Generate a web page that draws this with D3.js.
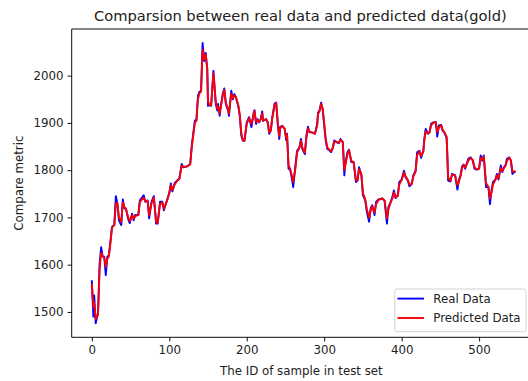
<!DOCTYPE html>
<html>
<head>
<meta charset="utf-8">
<script src="https://cdn.jsdelivr.net/npm/d3@7"></script>
<style>
  body { margin: 0; background: #fff; }
  svg { display: block; font-family: "DejaVu Sans", sans-serif; }
</style>
</head>
<body>
<div id="chart"></div>
<script>
// sample ids (turning points of the curve)
const sampleId = [
  0, 2, 3, 5, 8, 10, 12, 14, 16, 18, 20, 22, 24, 26, 29, 31, 33, 35, 38, 40,
  42, 44, 47, 49, 52, 54, 56, 60, 62, 67, 69, 72, 74, 77, 80, 83, 85, 88, 91, 93,
  97, 100, 102, 104, 107, 110, 113, 116, 118, 123, 127, 129, 133, 135, 137, 139, 141, 143, 145, 147,
  149, 150, 152, 154, 157, 160, 162, 163, 165, 167, 169, 171, 173, 176, 177, 180, 182, 184, 186, 189,
  191, 193, 195, 197, 200, 203, 206, 209, 210, 212, 214, 216, 218, 220, 221, 225, 227, 229, 231, 233,
  236, 238, 240, 242, 243, 246, 249, 251, 252, 254, 256, 258, 260, 263, 265, 268, 270, 272, 275, 277,
  279, 281, 284, 288, 291, 292, 294, 296, 298, 300, 302, 304, 306, 309, 311, 313, 316, 319, 321, 324,
  326, 327, 330, 332, 335, 338, 341, 343, 345, 348, 350, 353, 355, 358, 360, 362, 365, 367, 370, 375,
  378, 381, 383, 385, 388, 390, 392, 395, 397, 400, 403, 405, 408, 410, 413, 415, 418, 420, 423, 425,
  428, 429, 431, 434, 436, 438, 441, 444, 446, 448, 451, 453, 455, 458, 459, 460, 463, 465, 469, 472,
  474, 476, 478, 480, 482, 486, 489, 492, 494, 497, 500, 502, 504, 506, 507, 509, 512, 514, 516, 518,
  521, 523, 525, 528, 530, 532, 534, 536, 539, 541, 543, 546
];

const realData = [
  1565, 1490, 1535, 1476, 1498, 1600, 1637, 1617, 1617, 1578, 1617, 1620, 1650, 1680, 1684, 1745, 1729, 1694, 1684, 1738,
  1719, 1719, 1696, 1688, 1708, 1694, 1705, 1705, 1736, 1747, 1733, 1736, 1698, 1733, 1745, 1687, 1687, 1733, 1733, 1715,
  1736, 1752, 1772, 1755, 1773, 1778, 1782, 1813, 1806, 1808, 1813, 1852, 1905, 1905, 1957, 1966, 1968, 2069, 2031, 2048,
  2013, 1936, 1938, 1936, 2010, 1940, 1926, 1940, 1915, 1940, 1961, 1973, 1940, 1926, 1915, 1968, 1950, 1961, 1954, 1936,
  1915, 1873, 1862, 1862, 1901, 1912, 1891, 1922, 1927, 1898, 1908, 1901, 1908, 1924, 1904, 1908, 1901, 1877, 1884, 1912,
  1941, 1943, 1898, 1866, 1891, 1894, 1887, 1863, 1877, 1803, 1801, 1785, 1764, 1813, 1841, 1848, 1866, 1844, 1834, 1873,
  1892, 1880, 1880, 1877, 1898, 1922, 1926, 1943, 1929, 1894, 1862, 1845, 1843, 1838, 1847, 1863, 1859, 1857, 1866, 1859,
  1789, 1810, 1838, 1843, 1817, 1817, 1775, 1778, 1806, 1789, 1747, 1736, 1712, 1691, 1719, 1726, 1705, 1733, 1738, 1740,
  1735, 1687, 1722, 1729, 1743, 1757, 1741, 1747, 1775, 1780, 1799, 1785, 1778, 1766, 1771, 1789, 1799, 1838, 1841, 1826,
  1841, 1863, 1887, 1877, 1880, 1898, 1901, 1902, 1871, 1894, 1896, 1883, 1880, 1869, 1827, 1778, 1776, 1792, 1789, 1759,
  1780, 1789, 1808, 1812, 1803, 1824, 1827, 1820, 1803, 1801, 1803, 1831, 1820, 1831, 1808, 1764, 1764, 1728, 1757, 1775,
  1780, 1792, 1780, 1810, 1796, 1806, 1810, 1824, 1827, 1820, 1792, 1797
];

const predData = [
  1558, 1510, 1520, 1485, 1495, 1590, 1625, 1618, 1615, 1595, 1612, 1618, 1645, 1678, 1684, 1730, 1730, 1700, 1690, 1732,
  1722, 1718, 1700, 1692, 1705, 1697, 1703, 1705, 1733, 1742, 1735, 1735, 1705, 1730, 1742, 1692, 1688, 1728, 1732, 1718,
  1735, 1750, 1768, 1758, 1770, 1777, 1781, 1810, 1807, 1808, 1812, 1848, 1900, 1905, 1950, 1963, 1966, 2055, 2035, 2045,
  2015, 1945, 1938, 1937, 2005, 1945, 1930, 1935, 1920, 1938, 1958, 1970, 1943, 1928, 1920, 1962, 1952, 1958, 1955, 1938,
  1918, 1878, 1863, 1862, 1898, 1910, 1898, 1918, 1925, 1902, 1906, 1902, 1907, 1920, 1906, 1907, 1902, 1880, 1883, 1910,
  1938, 1942, 1902, 1872, 1888, 1893, 1888, 1868, 1875, 1810, 1803, 1790, 1775, 1805, 1838, 1847, 1862, 1846, 1837, 1868,
  1888, 1881, 1880, 1877, 1895, 1918, 1925, 1940, 1930, 1900, 1866, 1848, 1844, 1840, 1846, 1860, 1860, 1858, 1864, 1860,
  1800, 1808, 1834, 1842, 1820, 1817, 1780, 1778, 1802, 1792, 1752, 1738, 1718, 1700, 1715, 1724, 1710, 1728, 1737, 1740,
  1736, 1698, 1718, 1728, 1740, 1753, 1743, 1745, 1770, 1779, 1795, 1787, 1779, 1770, 1770, 1786, 1797, 1832, 1840, 1830,
  1839, 1858, 1882, 1878, 1880, 1895, 1900, 1902, 1880, 1890, 1895, 1885, 1881, 1871, 1835, 1785, 1777, 1790, 1789, 1768,
  1776, 1787, 1805, 1811, 1805, 1820, 1826, 1821, 1806, 1802, 1803, 1826, 1822, 1829, 1812, 1772, 1765, 1740, 1752, 1770,
  1779, 1789, 1782, 1805, 1798, 1804, 1809, 1820, 1826, 1821, 1798, 1796
];

const xTicks = [0, 100, 200, 300, 400, 500];
const yTicks = [1500, 1600, 1700, 1800, 1900, 2000];
const seriesNames = ["Real Data", "Predicted Data"];
const seriesColors = ["#0000ff", "#ff0000"];

const width = 528, height = 381;
const box = { left: 71.7, right: 531, top: 29, bottom: 337.3 };
const fs = 11.8;

const svg = d3.select("#chart").append("svg")
  .attr("width", width)
  .attr("height", height);

const x = d3.scaleLinear().domain([-26, 567]).range([box.left, box.right]);
const yMin = d3.min(realData.concat(predData));
const yMax = d3.max(realData.concat(predData));
const pad = (yMax - yMin) * 0.05;
const y = d3.scaleLinear().domain([yMin - pad, yMax + pad]).range([box.bottom, box.top]);

// lines
const line = d3.line()
  .x((d) => x(d[0]))
  .y((d) => y(d[1]));

svg.append("defs").append("clipPath").attr("id", "plotclip")
  .append("rect")
  .attr("x", box.left).attr("y", box.top)
  .attr("width", box.right - box.left).attr("height", box.bottom - box.top);

const plot = svg.append("g").attr("clip-path", "url(#plotclip)");
[realData, predData].forEach((vals, k) => {
  plot.append("path")
    .datum(sampleId.map((id, i) => [id, vals[i]]))
    .attr("d", line)
    .attr("fill", "none")
    .attr("stroke", seriesColors[k])
    .attr("stroke-width", 1.9)
    .attr("stroke-linejoin", "round")
    .attr("stroke-linecap", "square");
});

// axes
const xAxis = svg.append("g")
  .attr("transform", `translate(0,${box.bottom})`)
  .call(d3.axisBottom(x).tickValues(xTicks).tickFormat(d3.format("d"))
    .tickSize(4.1).tickPadding(4.1).tickSizeOuter(0));
const yAxis = svg.append("g")
  .attr("transform", `translate(${box.left},0)`)
  .call(d3.axisLeft(y).tickValues(yTicks).tickFormat(d3.format("d"))
    .tickSize(4.1).tickPadding(4.1).tickSizeOuter(0));

for (const ax of [xAxis, yAxis]) {
  ax.select(".domain").remove();
  ax.selectAll(".tick line").attr("stroke", "#000").attr("stroke-width", 0.95);
  ax.selectAll(".tick text")
    .attr("fill", "#222")
    .attr("font-size", fs)
    .attr("font-family", "DejaVu Sans");
}

// spines (left, top, bottom; right one sits outside the picture)
svg.append("path")
  .attr("d", `M${box.left},${box.bottom}V${box.top}H${box.right}V${box.bottom}Z`)
  .attr("fill", "none")
  .attr("stroke", "#000")
  .attr("stroke-width", 0.95);

// title and labels
svg.append("text")
  .attr("x", (box.left + box.right) / 2 - 1)
  .attr("y", 20.7)
  .attr("text-anchor", "middle")
  .attr("font-size", 14.65)
  .attr("fill", "#222")
  .text("Comparsion between real data and predicted data(gold)");

svg.append("text")
  .attr("x", (box.left + box.right) / 2)
  .attr("y", 374.5)
  .attr("text-anchor", "middle")
  .attr("font-size", fs)
  .attr("fill", "#222")
  .text("The ID of sample in test set");

svg.append("text")
  .attr("transform", `translate(22.5,${(box.top + box.bottom) / 2}) rotate(-90)`)
  .attr("text-anchor", "middle")
  .attr("font-size", fs)
  .attr("fill", "#222")
  .text("Compare metric");

// legend
const legend = svg.append("g");
legend.append("rect")
  .attr("x", 394.7).attr("y", 289)
  .attr("width", 131.3).attr("height", 42.7)
  .attr("rx", 2.5)
  .attr("fill", "#fff").attr("fill-opacity", 0.8)
  .attr("stroke", "#d0d0d0").attr("stroke-width", 0.95);

seriesNames.forEach((name, k) => {
  const cy = 298.6 + k * 19.4;
  legend.append("line")
    .attr("x1", 397.5).attr("x2", 424)
    .attr("y1", cy).attr("y2", cy)
    .attr("stroke", seriesColors[k])
    .attr("stroke-width", 1.9);
  legend.append("text")
    .attr("x", 433.3).attr("y", cy)
    .attr("dy", "0.36em")
    .attr("font-size", fs)
    .attr("fill", "#222")
    .text(name);
});
</script>
</body>
</html>
